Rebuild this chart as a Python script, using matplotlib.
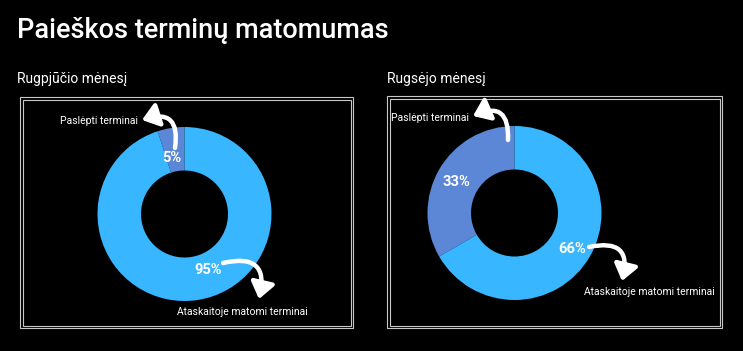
import matplotlib
matplotlib.use("Agg")
import matplotlib.pyplot as plt
from matplotlib.patches import Rectangle

plt.rcParams['font.family'] = ['Roboto', 'DejaVu Sans']

title = "Paieškos terminų matomumas"
months = ["Rugpjūčio mėnesį", "Rugsėjo mėnesį"]
slice_names = ["Paslėpti terminai", "Ataskaitoje matomi terminai"]
hidden = [5, 33]
visible = [95, 66]
colors = ["#5b87d6", "#38b6ff"]

W, H = 743, 351
fig = plt.figure(figsize=(W / 100, H / 100), dpi=100, facecolor="black")
ax = fig.add_axes([0, 0, 1, 1])
ax.set_facecolor("black")

# layout in pixel coords (y measured from top)
panels = [
    dict(frame=(20, 97, 353, 328), sub=(17, 83), center=(184.5, 214),
         lab_hidden=(138, 121), pct_hidden=(172, 158), arr_hidden=((175, 148), (142, 120)),
         lab_vis=(308, 312), pct_vis=(208, 270), arr_vis=((223, 263), (259, 299))),
    dict(frame=(387, 96, 722, 328), sub=(387, 83), center=(514.5, 213),
         lab_hidden=(469, 118), pct_hidden=(456, 182), arr_hidden=((508, 140), (473, 116)),
         lab_vis=(715, 292), pct_vis=(572, 249), arr_vis=((589, 247), (622, 281))),
]

def fy(y):
    return H - y

R = 87
for i, p in enumerate(panels):
    vals = [hidden[i], visible[i]]
    cx, cy = p["center"]
    ax.pie(vals, colors=colors, startangle=90, counterclock=True,
           center=(cx, fy(cy)), radius=R,
           wedgeprops=dict(width=R * 0.5, linewidth=0))

    # double frame
    x0, y0, x1, y1 = p["frame"]
    for off in (0, 2.5):
        ax.add_patch(Rectangle((x0 + off, fy(y1) + off), x1 - x0 - 2 * off, y1 - y0 - 2 * off,
                               fill=False, edgecolor="#c8c8c8", lw=0.8))

    ax.text(p["sub"][0], fy(p["sub"][1]), months[i], color="white", fontsize=10,
            ha="left", va="baseline")

    ax.text(p["lab_hidden"][0], fy(p["lab_hidden"][1]), slice_names[0], color="white",
            fontsize=7.5, ha="right", va="center")
    ax.text(p["lab_vis"][0], fy(p["lab_vis"][1]), slice_names[1], color="white",
            fontsize=7.5, ha="right", va="center")
    ax.text(p["pct_hidden"][0], fy(p["pct_hidden"][1]), f"{hidden[i]}%", color="white",
            fontsize=10.5, fontweight="bold", ha="center", va="center")
    ax.text(p["pct_vis"][0], fy(p["pct_vis"][1]), f"{visible[i]}%", color="white",
            fontsize=10.5, fontweight="bold", ha="center", va="center")

    for (t, h), rad in ((p["arr_hidden"], 0.8), (p["arr_vis"], -0.8)):
        ax.annotate("", xy=(h[0], fy(h[1])), xytext=(t[0], fy(t[1])),
                    arrowprops=dict(arrowstyle="-|>,head_length=0.8,head_width=0.6",
                                    connectionstyle=f"arc3,rad={rad}",
                                    color="white", lw=3.2, mutation_scale=12,
                                    shrinkA=0, shrinkB=0))

ax.text(17, fy(30), title, color="white", fontsize=19.5, fontweight="medium",
        ha="left", va="center")

ax.set_xlim(0, W)
ax.set_ylim(0, H)
ax.set_aspect("auto")
ax.axis("off")

fig.savefig("out.png", dpi=100, facecolor="black")
